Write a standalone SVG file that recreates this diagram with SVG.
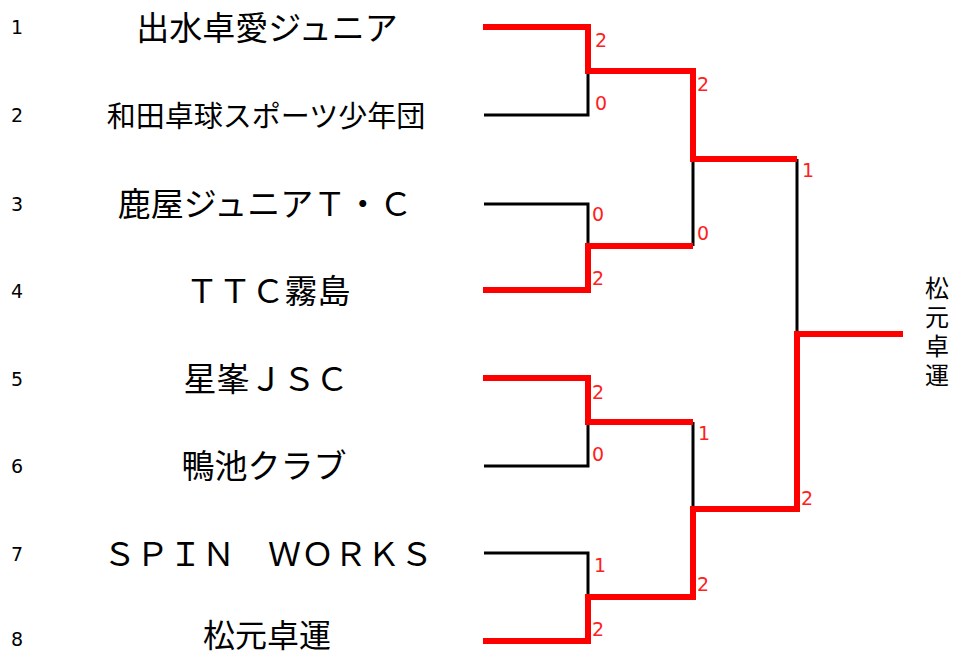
<svg xmlns="http://www.w3.org/2000/svg" width="954" height="657" viewBox="0 0 954 657">
<style>
.bg{fill:#ffffff}
.lose{fill:none;stroke:#000000;stroke-width:3;stroke-linejoin:miter}
.win{fill:none;stroke:#ff0000;stroke-width:6;stroke-linejoin:miter}
.num{font-family:"DejaVu Sans","Liberation Sans",sans-serif;font-size:19px;fill:#000000;text-anchor:middle}
.team{font-family:"Noto Sans CJK JP","Noto Sans",sans-serif;font-size:33px;fill:#000000;text-anchor:middle}
.sc{font-family:"DejaVu Sans","Liberation Sans",sans-serif;font-size:19px;fill:#ff2020}
.champ{font-family:"Noto Sans CJK JP",sans-serif;font-size:24px;fill:#000000;writing-mode:vertical-rl;letter-spacing:5px}
</style>
<rect class="bg" x="0" y="0" width="954" height="657"/>
<g id="team1"><text class="num" x="17" y="34">1</text><text class="team" x="267" y="40">出水卓愛ジュニア</text></g>
<g id="team2"><text class="num" x="17" y="122">2</text><text class="team" x="266" y="127" style="font-size:29px">和田卓球スポーツ少年団</text></g>
<g id="team3"><text class="num" x="17" y="211">3</text><text class="team" x="265" y="216">鹿屋ジュニアＴ・Ｃ</text></g>
<g id="team4"><text class="num" x="17" y="298">4</text><text class="team" x="268" y="303">ＴＴＣ霧島</text></g>
<g id="team5"><text class="num" x="17" y="386">5</text><text class="team" x="266" y="391">星峯ＪＳＣ</text></g>
<g id="team6"><text class="num" x="17" y="473">6</text><text class="team" x="264" y="478">鴨池クラブ</text></g>
<g id="team7"><text class="num" x="17" y="561">7</text><text class="team" x="268" y="566">ＳＰＩＮ　ＷＯＲＫＳ</text></g>
<g id="team8"><text class="num" x="17" y="646">8</text><text class="team" x="267" y="647" style="font-size:32px">松元卓運</text></g>
<g id="champion">
<text class="champ" x="937" y="276">松元卓運</text>
</g>
<g id="connectors">
<polyline class="lose" points="484,115 588,115 588,71"/>
<polyline class="lose" points="484,204 588,204 588,246"/>
<polyline class="lose" points="693,246 693,159"/>
<polyline class="lose" points="484,466 588,466 588,422"/>
<polyline class="lose" points="693,422 693,509"/>
<polyline class="lose" points="484,553 588,553 588,597"/>
<polyline class="lose" points="797,159 797,334"/>
<polyline class="win" points="483,27 588,27 588,71 693,71 693,159 797,159"/>
<polyline class="win" points="483,290 588,290 588,246 693,246"/>
<polyline class="win" points="483,378 588,378 588,422 693,422"/>
<polyline class="win" points="483,641 588,641 588,597 693,597 693,509 797,509 797,334 903,334"/>
</g>
<g id="scores">
<text class="sc" x="595" y="47">2</text>
<text class="sc" x="595" y="110">0</text>
<text class="sc" x="697" y="91">2</text>
<text class="sc" x="697" y="240">0</text>
<text class="sc" x="592" y="221">0</text>
<text class="sc" x="592" y="285">2</text>
<text class="sc" x="802" y="177">1</text>
<text class="sc" x="801" y="505">2</text>
<text class="sc" x="592" y="399">2</text>
<text class="sc" x="592" y="461">0</text>
<text class="sc" x="698" y="440">1</text>
<text class="sc" x="594" y="572">1</text>
<text class="sc" x="592" y="636">2</text>
<text class="sc" x="697" y="591">2</text>
</g>
</svg>
